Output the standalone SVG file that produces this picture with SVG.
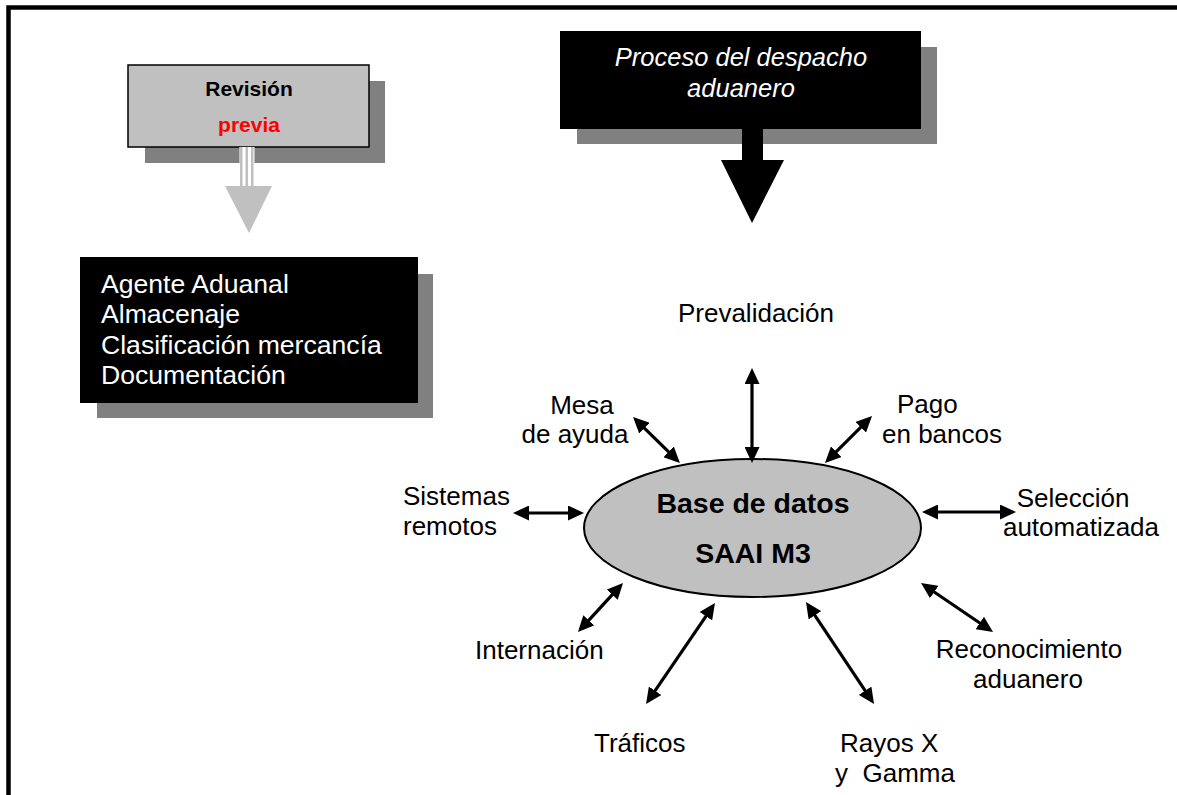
<svg xmlns="http://www.w3.org/2000/svg" width="1177" height="795" viewBox="0 0 1177 795">
<style>
text{font-family:"Liberation Sans",Arial,sans-serif;fill:#000}
.lbl{font-size:26px}
.w{fill:#fff}
.b{font-weight:bold}
.sh{fill:#808080}
.conn line{stroke:#000;stroke-width:3.2;fill:none}
</style>
<defs>
<marker id="ah" viewBox="0 0 16 15" markerUnits="userSpaceOnUse" markerWidth="16" markerHeight="15" refX="12" refY="7.5" orient="auto-start-reverse">
<path d="M0,0 L16,7.5 L0,15 z" fill="#000"/>
</marker>
</defs>
<rect width="1177" height="795" fill="#fff"/>
<path d="M8.5,795 V7.5 H1177" fill="none" stroke="#000" stroke-width="4.5"/>

<g id="revision">
<rect class="sh" x="145" y="81" width="240" height="82"/>
<rect x="128" y="65" width="241" height="82" fill="#c0c0c0" stroke="#000" stroke-width="1.5"/>
<rect x="239.5" y="147" width="15" height="39" fill="#fff"/>
<rect x="240" y="147" width="2.5" height="39" fill="#c0c0c0"/>
<rect x="245.5" y="147" width="2.5" height="39" fill="#c0c0c0"/>
<rect x="251" y="147" width="2.5" height="39" fill="#c0c0c0"/>
<polygon points="225,186 272,186 249,233" fill="#c0c0c0"/>
<text class="b" x="249" y="96" font-size="21" text-anchor="middle">Revisión</text>
<text class="b" x="249" y="132" font-size="21" text-anchor="middle" style="fill:#ff0000">previa</text>
</g>

<g id="proceso">
<rect class="sh" x="577" y="47" width="360" height="97"/>
<rect x="560" y="31" width="361" height="98" fill="#000"/>
<polygon points="742,129 763,129 763,160 784,160 752,223 721,160 742,160" fill="#000"/>
<text class="w" x="741" y="66" font-size="25.5" font-style="italic" text-anchor="middle">Proceso del despacho</text>
<text class="w" x="741" y="97" font-size="25.5" font-style="italic" text-anchor="middle">aduanero</text>
</g>

<g id="agente">
<rect class="sh" x="97" y="274" width="336" height="144"/>
<rect x="80" y="257" width="338" height="146" fill="#000"/>
<text class="w" x="101" y="293" font-size="26.6">Agente Aduanal</text>
<text class="w" x="101" y="323" font-size="26.6">Almacenaje</text>
<text class="w" x="101" y="354" font-size="26.6">Clasificación mercancía</text>
<text class="w" x="101" y="384" font-size="26.6">Documentación</text>
</g>

<g id="base">
<ellipse cx="752.5" cy="528" rx="168.5" ry="69" fill="#c0c0c0" stroke="#000" stroke-width="2"/>
<text class="b" x="753" y="513" font-size="28.5" text-anchor="middle">Base de datos</text>
<text class="b" x="753" y="563" font-size="28.5" text-anchor="middle">SAAI M3</text>
</g>

<g id="prevalidacion"><text class="lbl" x="756" y="322" text-anchor="middle">Prevalidación</text></g>
<g id="mesa"><text class="lbl" x="582" y="414" text-anchor="middle">Mesa</text><text class="lbl" x="575" y="443" text-anchor="middle">de ayuda</text></g>
<g id="pago"><text class="lbl" x="897" y="413">Pago</text><text class="lbl" x="882" y="443">en bancos</text></g>
<g id="sistemas"><text class="lbl" x="403" y="505">Sistemas</text><text class="lbl" x="403" y="535">remotos</text></g>
<g id="seleccion"><text class="lbl" x="1073" y="507" text-anchor="middle">Selección</text><text class="lbl" x="1081" y="536" text-anchor="middle">automatizada</text></g>
<g id="internacion"><text class="lbl" x="475" y="659">Internación</text></g>
<g id="traficos"><text class="lbl" x="594" y="752">Tráficos</text></g>
<g id="rayos"><text class="lbl" x="840" y="752">Rayos X</text><text class="lbl" x="835" y="782" xml:space="preserve">y  Gamma</text></g>
<g id="reconocimiento"><text class="lbl" x="1029" y="658" text-anchor="middle">Reconocimiento</text><text class="lbl" x="1028" y="688" text-anchor="middle">aduanero</text></g>

<g id="connectors" class="conn">
<line x1="752" y1="372" x2="752" y2="459" marker-start="url(#ah)" marker-end="url(#ah)"/>
<line x1="635.9" y1="419.8" x2="677.1" y2="460.2" marker-start="url(#ah)" marker-end="url(#ah)"/>
<line x1="827.8" y1="460.2" x2="869.2" y2="418.8" marker-start="url(#ah)" marker-end="url(#ah)"/>
<line x1="517" y1="513" x2="580" y2="513" marker-start="url(#ah)" marker-end="url(#ah)"/>
<line x1="926" y1="512" x2="1012" y2="512" marker-start="url(#ah)" marker-end="url(#ah)"/>
<line x1="620.3" y1="585.9" x2="580.7" y2="629.1" marker-start="url(#ah)" marker-end="url(#ah)"/>
<line x1="712.7" y1="606.3" x2="648.3" y2="700.7" marker-start="url(#ah)" marker-end="url(#ah)"/>
<line x1="808.2" y1="605.3" x2="871.8" y2="700.7" marker-start="url(#ah)" marker-end="url(#ah)"/>
<line x1="924.3" y1="585.3" x2="989.7" y2="629.7" marker-start="url(#ah)" marker-end="url(#ah)"/>
</g>
</svg>
